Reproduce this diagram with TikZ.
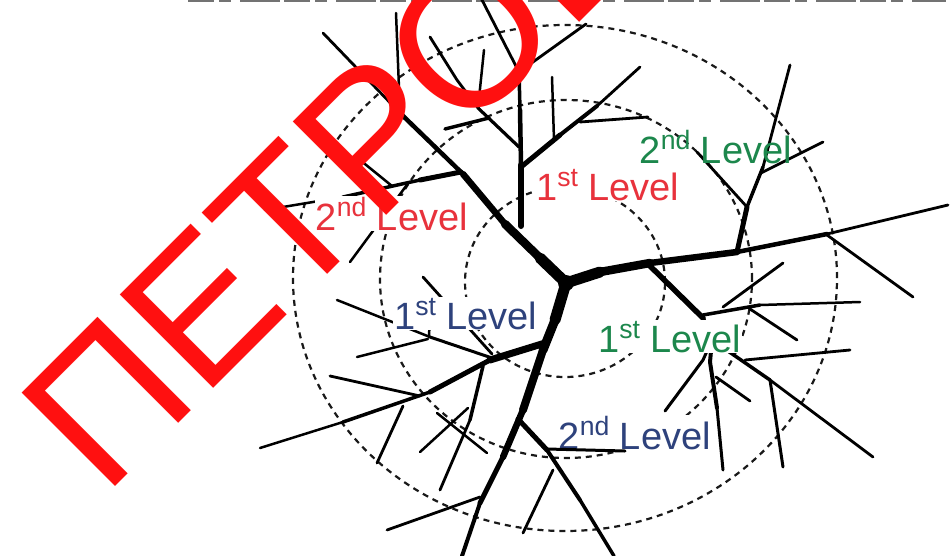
\documentclass[tikz,border=0pt]{standalone}
\usepackage{fontspec}
\newfontfamily\labfont{Liberation Sans}
\definecolor{wmred}{RGB}{255,16,16}
\definecolor{lvred}{RGB}{232,50,60}
\definecolor{lvgreen}{RGB}{28,135,76}
\definecolor{lvblue}{RGB}{46,66,124}
\newcommand\lvsup[1]{\raisebox{14pt}{\fontsize{26.6}{26.6}\selectfont #1}}
\tikzset{
  ring/.style={draw=black!90, line width=2.2pt, dash pattern=on 6pt off 5pt},
  twig/.style={draw=black, line cap=round, line join=round},
  lvl/.style={anchor=base west, inner xsep=1pt, inner ysep=1pt,
    font=\labfont\fontsize{38}{38}\selectfont},
  lvlbg/.style={lvl, fill=white},
}
\begin{document}
\begin{tikzpicture}[x=1pt,y=-1pt]
\path[use as bounding box, fill=white] (0,0) rectangle (952,555);
\clip (0,0) rectangle (952,555);

% cut-off rule along the top edge
\draw[black!55, line width=1.8pt, dash pattern=on 26pt off 5pt on 12pt off 9pt on 40pt off 4pt] (188,1) -- (946,1);

% level rings
\draw[ring] (565,278) ellipse [x radius=272pt, y radius=253pt];
\draw[ring] (566,279) ellipse [x radius=186pt, y radius=179pt];
\draw[ring] (565,282) ellipse [x radius=100pt, y radius=95pt];

% junctions
\coordinate (C) at (566,283);
\coordinate (t1a) at (540,258); \coordinate (t1b) at (505,224);
\coordinate (t1c) at (463,174); \coordinate (t1d) at (400,113);
\coordinate (t1e) at (323,33);
\coordinate (t2a) at (600,272); \coordinate (t2b) at (650,263);
\coordinate (t2c) at (737,252); \coordinate (t2d) at (827,234);
\coordinate (t2e) at (948,205);
\coordinate (t3a) at (555,320); \coordinate (t3b) at (543,350);
\coordinate (t3c) at (523,410); \coordinate (t3d) at (503,457);
\coordinate (t3e) at (480,503); \coordinate (t3f) at (462,556);

% ---- upper-left trunk
\draw[twig, line width=11pt] (C) -- (t1a);
\draw[twig, line width=8.5pt] (t1a) -- (t1b);
\draw[twig, line width=6.5pt] (t1b) -- (t1c);
\draw[twig, line width=4.5pt] (t1c) -- (t1d);
\draw[twig, line width=2.8pt] (t1d) -- (t1e);
\draw[twig, line width=2.5pt] (t1d) -- (396,13);
% vertical branch
\draw[twig, line width=6pt] (521,226) -- (521,165);
\draw[twig, line width=4.5pt] (521,165) -- (520,110);
\draw[twig, line width=3.5pt] (520,110) -- (519,72);
\draw[twig, line width=2.8pt] (519,72) -- (481,-2);
\draw[twig, line width=2.8pt] (519,72) -- (586,24);
% branch up-left from the vertical
\draw[twig, line width=3.2pt] (519,147) -- (478,108);
\draw[twig, line width=2.8pt] (478,108) -- (457,80) -- (430,37);
\draw[twig, line width=2.5pt] (478,108) -- (484,50);
\draw[twig, line width=3.5pt] (489,118) -- (445,129);
% branch up-right from the vertical
\draw[twig, line width=5pt] (521,167) -- (560,135);
\draw[twig, line width=4pt] (560,135) -- (597,106);
\draw[twig, line width=2.8pt] (597,106) -- (640,67);
\draw[twig, line width=2.8pt] (580,122) -- (648,117);
\draw[twig, line width=2.5pt] (554,140) -- (552,77);
% branch left from the trunk
\draw[twig, line width=5pt] (461,172) -- (420,180);
\draw[twig, line width=3.5pt] (420,180) -- (343,197);
\draw[twig, line width=2.5pt] (343,197) -- (265,210);
\draw[twig, line width=2.5pt] (392,186) -- (360,160);
\draw[twig, line width=2.5pt] (409,182) -- (350,262);

% ---- right trunk
\draw[twig, line width=11pt] (C) -- (t2a);
\draw[twig, line width=8.5pt] (t2a) -- (t2b);
\draw[twig, line width=6.5pt] (t2b) -- (t2c);
\draw[twig, line width=4.5pt] (t2c) -- (t2d);
\draw[twig, line width=2.8pt] (t2d) -- (t2e);
\draw[twig, line width=5pt] (t2c) -- (747,207);
\draw[twig, line width=3.5pt] (747,207) -- (763,167);
\draw[twig, line width=2.8pt] (763,167) -- (790,65);
\draw[twig, line width=2.8pt] (747,207) -- (697,152);
\draw[twig, line width=2.8pt] (761,173) -- (823,142);
\draw[twig, line width=2.8pt] (827,235) -- (913,297);
% branch down-right and its fan
\coordinate (J) at (712,340);
\draw[twig, line width=5.5pt] (648,264) -- (703,318);
\draw[twig, line width=4pt] (703,318) -- (J);
\draw[twig, line width=3.5pt] (703,315) -- (760,305);
\draw[twig, line width=2.5pt] (760,305) -- (860,302);
\draw[twig, line width=2.8pt] (723,307) -- (783,263);
\draw[twig, line width=2.8pt] (750,309) -- (797,340);
\draw[twig, line width=3pt] (J) -- (703,360) -- (665,411);
\draw[twig, line width=4pt] (J) -- (710,362) -- (717,408);
\draw[twig, line width=3pt] (717,408) -- (723,470);
\draw[twig, line width=2.8pt] (716,377) -- (750,401);
\draw[twig, line width=3.5pt] (J) -- (770,380);
\draw[twig, line width=2.8pt] (770,380) -- (873,457);
\draw[twig, line width=3pt] (770,380) -- (783,467);
\draw[twig, line width=2.8pt] (745,360) -- (850,350);

% ---- lower trunk
\draw[twig, line width=11pt] (C) -- (t3a);
\draw[twig, line width=9pt] (t3a) -- (t3b);
\draw[twig, line width=8pt] (t3b) -- (t3c);
\draw[twig, line width=6.5pt] (t3c) -- (t3d);
\draw[twig, line width=5pt] (t3d) -- (t3e);
\draw[twig, line width=4pt] (t3e) -- (t3f);
% branch left
\draw[twig, line width=7pt] (545,343) -- (490,360);
\draw[twig, line width=5pt] (490,360) -- (430,392);
\draw[twig, line width=3.5pt] (430,392) -- (343,422);
\draw[twig, line width=2.5pt] (343,422) -- (260,448);
\draw[twig, line width=3pt] (492,358) -- (430,337);
\draw[twig, line width=2.5pt] (430,337) -- (337,300);
\draw[twig, line width=2.5pt] (429,337) -- (430,312);
\draw[twig, line width=2.8pt] (492,354) -- (423,277);
\draw[twig, line width=2.5pt] (428,339) -- (357,357);
\draw[twig, line width=2.8pt] (420,396) -- (330,376);
\draw[twig, line width=2.8pt] (403,406) -- (377,463);
\draw[twig, line width=3.5pt] (483,366) -- (470,420);
\draw[twig, line width=2.8pt] (470,420) -- (440,490);
\draw[twig, line width=2.5pt] (468,408) -- (420,452);
\draw[twig, line width=2.5pt] (437,413) -- (487,453);
\draw[twig, line width=2.8pt] (480,497) -- (387,530);
% branch down-right
\draw[twig, line width=5pt] (518,419) -- (547,450);
\draw[twig, line width=4pt] (547,450) -- (580,500);
\draw[twig, line width=3.5pt] (580,500) -- (614,556);
\draw[twig, line width=2.8pt] (553,470) -- (523,533);

% junction hub
\fill (C) circle [radius=8pt];

% level labels
\node[lvlbg, text=lvred] (red2) at (314.5,230) {2\lvsup{nd} Level};
\node[lvlbg, text=lvred] (red1) at (535,200) {1\lvsup{st} Level};
\node[lvl, text=lvgreen] (green2) at (638.5,163) {2\lvsup{nd} Level};
\node[lvlbg, text=lvblue] (blue1) at (393,329) {1\lvsup{st} Level};
\node[lvlbg, text=lvgreen] (green1) at (597,352) {1\lvsup{st} Level};
\node[lvlbg, text=lvblue] (blue2) at (557.5,449) {2\lvsup{nd} Level};
\draw[twig, line width=3pt] (547,449) -- (625,451);

% stamped lettering
\node[anchor=base west, rotate=45, inner sep=0pt, text=wmred,
  font=\labfont\fontsize{192}{192}\selectfont] (stamp) at (104.4,497.6) {ПЕТРОВ};
\end{tikzpicture}
\end{document}
